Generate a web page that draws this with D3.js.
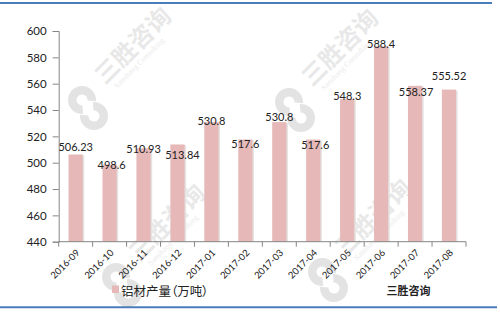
<!DOCTYPE html>
<html><head><meta charset="utf-8">
<script src="https://cdn.jsdelivr.net/npm/d3@7"></script>
<style>
html,body{margin:0;padding:0;background:#fff;}
svg{display:block;}
</style></head>
<body>
<svg id="c" width="500" height="313"></svg>
<script>
const categories = ["2016-09","2016-10","2016-11","2016-12","2017-01","2017-02","2017-03","2017-04","2017-05","2017-06","2017-07","2017-08"];
const values = [506.23,498.6,510.93,513.84,530.8,517.6,530.8,517.6,548.3,588.4,558.37,555.52];
const valueLabels = ["506.23","498.6","510.93","513.84","530.8","517.6","530.8","517.6","548.3","588.4","558.37","555.52"];
const yTicks = [440,460,480,500,520,540,560,580,600];
const seriesName = "铝材产量（万吨）";
const sourceText = "三胜咨询";
// label nudges [dx, dy] relative to bar top (as placed in the reference)
const labelNudge = [[0,-8],[2,0],[0,0],[5,10],[0,-2],[0,4],[0,-6],[2,5],[0,-4],[0,-3],[1,6],[0,-14]];

const svg = d3.select("#c");
const L = 58.7, R = 466, T = 31, B = 241.7;
const x = d3.scaleBand().domain(categories).range([L, R]).paddingInner(0.58).paddingOuter(0.29);
const y = d3.scaleLinear().domain([440, 600]).range([B, T]);
const pink = "#e6b9b8";

// frame lines
svg.append("line").attr("x1",0).attr("x2",492).attr("y1",3).attr("y2",3).attr("stroke","#4a7ebb").attr("stroke-width",1.8);
svg.append("line").attr("x1",0).attr("x2",497).attr("y1",307.3).attr("y2",307.3).attr("stroke","#4a7ebb").attr("stroke-width",2);

// watermarks (behind)
const wmPos = [[88,108],[295,110],[122,285],[328,280]];
const wm = svg.selectAll("g.wm").data(wmPos).join("g")
  .attr("transform",d=>`translate(${d[0]},${d[1]})`).attr("opacity",0.14).attr("pointer-events","none");
const arc = d3.arc().innerRadius(5.5).outerRadius(14);
wm.append("path").attr("transform","translate(-6,-8)")
  .attr("d",arc({startAngle:Math.PI*0.75+0.7,endAngle:Math.PI*2.75-0.7})).attr("fill","#444");
wm.append("path").attr("transform","translate(6,8)")
  .attr("d",arc({startAngle:-Math.PI*0.25+0.7,endAngle:Math.PI*1.75-0.7})).attr("fill","#444");
const wt = wm.append("g").attr("transform","rotate(-45)");
wt.append("text").attr("x",28).attr("y",-4).attr("font-family","'Noto Sans CJK SC', sans-serif")
  .attr("font-size","24px").attr("font-weight","bold").attr("fill","#666").text("三胜咨询");
wt.append("text").attr("x",34).attr("y",7).attr("font-family","'Liberation Serif', serif")
  .attr("font-size","8px").attr("fill","#666").text("Sanshang Consulting");

// bars with light shadow
const g = svg.append("g");
g.selectAll("rect.sh").data(values).join("rect")
  .attr("x",(d,i)=>x(categories[i])+1.5).attr("y",d=>y(d)+1)
  .attr("width",x.bandwidth()).attr("height",d=>B-y(d)-1)
  .attr("fill","#e4e4e4");
g.selectAll("rect.b").data(values).join("rect")
  .attr("x",(d,i)=>x(categories[i])).attr("y",d=>y(d))
  .attr("width",x.bandwidth()).attr("height",d=>B-y(d))
  .attr("fill",pink);

// y axis
const ya = svg.append("g").attr("transform",`translate(${L},0)`)
  .call(d3.axisLeft(y).tickValues(yTicks).tickSize(6).tickPadding(6));
ya.select(".domain").attr("stroke","#868686");
ya.selectAll(".tick line").attr("stroke","#868686");
ya.selectAll("text").attr("font-family","Lato, 'Liberation Sans', sans-serif").attr("font-size","11.5px").attr("fill","#222");

// x axis
const step = x.step();
svg.append("line").attr("x1",L).attr("x2",R).attr("y1",B).attr("y2",B).attr("stroke","#868686");
const bounds = categories.map(c=>x(c) - step*0.29).concat([R]);
svg.selectAll("line.xt").data(bounds).join("line")
  .attr("x1",d=>d).attr("x2",d=>d).attr("y1",B).attr("y2",B+5).attr("stroke","#868686");
svg.selectAll("text.xl").data(categories).join("text")
  .attr("transform",d=>`translate(${x(d)+x.bandwidth()/2+3},${B+10}) rotate(-45)`)
  .attr("text-anchor","end").attr("dominant-baseline","middle")
  .attr("font-family","Lato, 'Liberation Sans', sans-serif").attr("font-size","9.5px").attr("fill","#222")
  .text(d=>d);

// data labels
svg.selectAll("text.vl").data(values).join("text")
  .attr("x",(d,i)=>x(categories[i])+x.bandwidth()/2+labelNudge[i][0])
  .attr("y",(d,i)=>y(d)+labelNudge[i][1])
  .attr("text-anchor","middle").attr("dominant-baseline","central")
  .attr("font-family","Lato, 'Liberation Sans', sans-serif").attr("font-size","11px").attr("fill","#222")
  .text((d,i)=>valueLabels[i]);

// legend
svg.append("rect").attr("x",112).attr("y",285.5).attr("width",7).attr("height",7.5).attr("fill",pink);
svg.append("text").attr("x",121).attr("y",290).attr("dominant-baseline","central")
  .attr("font-family","'Noto Sans CJK SC', sans-serif").attr("font-size","12.5px").attr("fill","#222")
  .style("font-feature-settings","'palt' 1").text(seriesName);
svg.append("text").attr("x",386.5).attr("y",290).attr("dominant-baseline","central")
  .attr("font-family","'Noto Sans CJK SC', sans-serif").attr("font-size","11px").attr("font-weight","bold").attr("fill","#222")
  .text(sourceText);
</script>
</body></html>
